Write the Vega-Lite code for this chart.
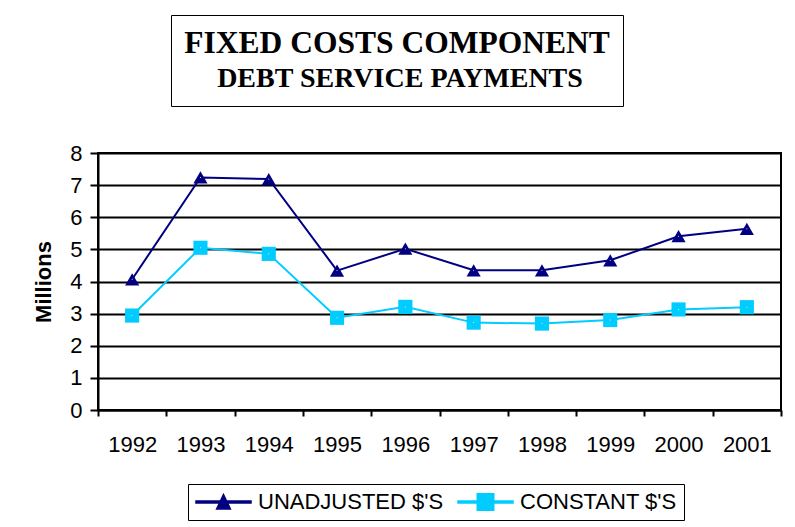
{
  "$schema": "https://vega.github.io/schema/vega-lite/v6.json",
  "width": 683,
  "height": 257,
  "autosize": "none",
  "padding": {"left": 98, "top": 153, "right": 14, "bottom": 117},
  "background": "white",
  "config": {
    "font": "Liberation Sans",
    "view": {"stroke": "black", "strokeWidth": 2}
  },
  "data": {
    "values": [
      {"year": "1992", "series": "UNADJUSTED $'S", "value": 4.07},
      {"year": "1993", "series": "UNADJUSTED $'S", "value": 7.24},
      {"year": "1994", "series": "UNADJUSTED $'S", "value": 7.19},
      {"year": "1995", "series": "UNADJUSTED $'S", "value": 4.34},
      {"year": "1996", "series": "UNADJUSTED $'S", "value": 5.02},
      {"year": "1997", "series": "UNADJUSTED $'S", "value": 4.35},
      {"year": "1998", "series": "UNADJUSTED $'S", "value": 4.35},
      {"year": "1999", "series": "UNADJUSTED $'S", "value": 4.66},
      {"year": "2000", "series": "UNADJUSTED $'S", "value": 5.41},
      {"year": "2001", "series": "UNADJUSTED $'S", "value": 5.64},
      {"year": "1992", "series": "CONSTANT $'S", "value": 2.94},
      {"year": "1993", "series": "CONSTANT $'S", "value": 5.05},
      {"year": "1994", "series": "CONSTANT $'S", "value": 4.86},
      {"year": "1995", "series": "CONSTANT $'S", "value": 2.87},
      {"year": "1996", "series": "CONSTANT $'S", "value": 3.21},
      {"year": "1997", "series": "CONSTANT $'S", "value": 2.72},
      {"year": "1998", "series": "CONSTANT $'S", "value": 2.69},
      {"year": "1999", "series": "CONSTANT $'S", "value": 2.80},
      {"year": "2000", "series": "CONSTANT $'S", "value": 3.13},
      {"year": "2001", "series": "CONSTANT $'S", "value": 3.20}
    ]
  },
  "encoding": {
    "x": {
      "field": "year",
      "type": "ordinal",
      "scale": {"type": "band", "paddingInner": 0, "paddingOuter": 0},
      "axis": {
        "title": null,
        "labelAngle": 0,
        "labelFontSize": 22,
        "labelColor": "black",
        "labelPadding": 18,
        "tickBand": "extent",
        "tickColor": "black",
        "tickWidth": 2,
        "tickSize": 6,
        "domainColor": "black",
        "domainWidth": 2,
        "grid": false
      }
    },
    "y": {
      "field": "value",
      "type": "quantitative",
      "scale": {"domain": [0, 8], "nice": false},
      "axis": {
        "title": "Millions",
        "titleFontSize": 22,
        "titleFontWeight": "bold",
        "titleColor": "black",
        "titlePadding": 14,
        "values": [0, 1, 2, 3, 4, 5, 6, 7, 8],
        "labelFontSize": 22,
        "labelColor": "black",
        "labelPadding": 8,
        "tickColor": "black",
        "tickWidth": 2,
        "tickSize": 8,
        "domainColor": "black",
        "domainWidth": 2,
        "grid": true,
        "gridColor": "black",
        "gridWidth": 2,
        "gridOpacity": 1
      }
    },
    "color": {
      "field": "series",
      "type": "nominal",
      "scale": {"domain": ["UNADJUSTED $'S", "CONSTANT $'S"], "range": ["#000080", "#00CCFF"]},
      "legend": {
        "title": null,
        "orient": "none",
        "direction": "horizontal",
        "legendX": 90,
        "legendY": 331,
        "labelFontSize": 22,
        "labelColor": "black",
        "labelLimit": 1000,
        "symbolSize": 3025,
        "symbolOpacity": 1,
        "clipHeight": 22,
        "strokeColor": "black",
        "fillColor": "white",
        "padding": 7,
        "columnPadding": 13,
        "labelOffset": 6
      }
    }
  },
  "layer": [
    {"mark": {"type": "line", "strokeWidth": 2}},
    {
      "transform": [{"filter": "datum.series === 'UNADJUSTED $\\'S'"}],
      "mark": {"type": "point", "filled": true, "opacity": 1, "size": 200, "shape": "triangle-up"}
    },
    {
      "transform": [{"filter": "datum.series === 'CONSTANT $\\'S'"}],
      "mark": {"type": "point", "filled": true, "opacity": 1, "size": 200, "shape": "square"}
    },
    {
      "mark": {"type": "point", "filled": true, "opacity": 0, "size": 3025},
      "encoding": {
        "shape": {
          "field": "series",
          "type": "nominal",
          "scale": {"domain": ["UNADJUSTED $'S", "CONSTANT $'S"], "range": ["M-1,-0.036H1V0.036H-1ZM0,-0.27L0.25,0.25L-0.25,0.25Z", "M-1,-0.036H1V0.036H-1ZM-0.3,-0.3H0.3V0.3H-0.3Z"]},
          "legend": null
        }
      }
    },
    {
      "mark": {"type": "point", "filled": true, "size": 1},
      "encoding": {
        "color": {"value": "white"},
        "opacity": {
          "datum": "DEBT SERVICE PAYMENTS",
          "type": "ordinal",
          "scale": {"range": [0]},
          "legend": {
            "title": "FIXED COSTS COMPONENT",
            "titleFont": "Liberation Serif",
            "titleFontSize": 31.5,
            "titleFontWeight": "bold",
            "titleColor": "black",
            "titleAnchor": "middle",
            "titlePadding": 5,
            "titleLimit": 1000,
            "labelFont": "Liberation Serif",
            "labelFontSize": 28,
            "labelFontWeight": "bold",
            "labelColor": "black",
            "labelAlign": "center",
            "labelOffset": 162,
            "labelLimit": 1000,
            "symbolSize": 0,
            "symbolOpacity": 0,
            "orient": "none",
            "legendX": 73,
            "legendY": -138,
            "padding": 13,
            "strokeColor": "black",
            "fillColor": "white"
          }
        }
      }
    }
  ]
}
